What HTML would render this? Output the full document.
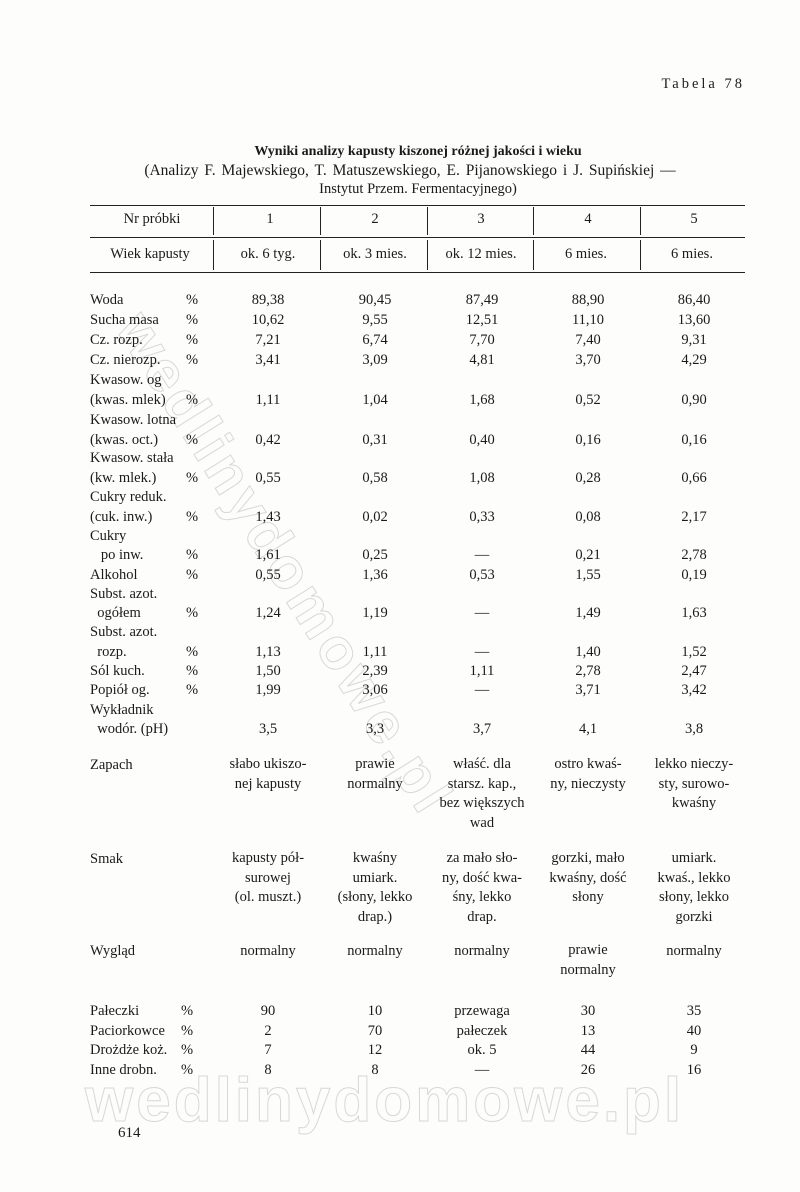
<!DOCTYPE html>
<html><head><meta charset="utf-8">
<style>
body{margin:0;background:#fff;}
#p{position:relative;width:800px;height:1192px;background:#fdfdfb;font-family:"Liberation Serif",serif;font-size:14.5px;color:#1a1a1a;overflow:hidden}
.t{position:absolute;white-space:nowrap;line-height:16px}
.c{position:absolute;white-space:nowrap;line-height:16px;transform:translateX(-50%);text-align:center}
.m{line-height:19.5px}
.h{position:absolute;background:#222;height:1px}
.v{position:absolute;background:#222;width:1px}
.wm{position:absolute;font-family:"Liberation Sans",sans-serif;font-weight:bold;color:transparent;-webkit-text-stroke:1px #d8d8d8;white-space:nowrap}
</style></head><body><div id="p">
<div class="wm" style="left:85px;top:1065px;font-size:62px;letter-spacing:3px">wedlinydomowe.pl</div>
<div class="wm" style="left:160px;top:300px;font-size:58px;transform-origin:0 0;transform:rotate(58deg);letter-spacing:4px">wedlinydomowe.pl</div>

<div class="t" style="right:55px;top:76px;letter-spacing:3px">Tabela 78</div>
<div class="c" style="left:418px;top:144px;font-weight:bold;font-size:14px">Wyniki analizy kapusty kiszonej różnej jakości i wieku</div>
<div class="c" style="left:410px;top:163px;font-size:15.5px;word-spacing:2px">(Analizy F. Majewskiego, T. Matuszewskiego, E. Pijanowskiego i J. Supińskiej —</div>
<div class="c" style="left:418px;top:181px">Instytut Przem. Fermentacyjnego)</div>

<div class="h" style="left:90px;top:205px;width:655px"></div>
<div class="h" style="left:90px;top:237px;width:655px"></div>
<div class="h" style="left:90px;top:272px;width:655px"></div>
<div class="v" style="left:213px;top:207px;height:28px"></div><div class="v" style="left:213px;top:240px;height:30px"></div>
<div class="v" style="left:320px;top:207px;height:28px"></div><div class="v" style="left:320px;top:240px;height:30px"></div>
<div class="v" style="left:427px;top:207px;height:28px"></div><div class="v" style="left:427px;top:240px;height:30px"></div>
<div class="v" style="left:533px;top:207px;height:28px"></div><div class="v" style="left:533px;top:240px;height:30px"></div>
<div class="v" style="left:640px;top:207px;height:28px"></div><div class="v" style="left:640px;top:240px;height:30px"></div>

<div class="c" style="left:152px;top:211px">Nr próbki</div>
<div class="c" style="left:270px;top:211px">1</div><div class="c" style="left:375px;top:211px">2</div><div class="c" style="left:481px;top:211px">3</div><div class="c" style="left:588px;top:211px">4</div><div class="c" style="left:694px;top:211px">5</div>
<div class="c" style="left:150px;top:246px">Wiek kapusty</div>
<div class="c" style="left:268px;top:246px">ok. 6 tyg.</div><div class="c" style="left:375px;top:246px">ok. 3 mies.</div><div class="c" style="left:481px;top:246px">ok. 12 mies.</div><div class="c" style="left:586px;top:246px">6 mies.</div><div class="c" style="left:692px;top:246px">6 mies.</div>

<div id="rows"></div>

<div class="t" style="left:90px;top:757px">Zapach</div>
<div class="c m" style="left:268px;top:755px">słabo ukiszo-<br>nej kapusty</div>
<div class="c m" style="left:375px;top:755px">prawie<br>normalny</div>
<div class="c m" style="left:482px;top:755px">właść. dla<br>starsz. kap.,<br>bez większych<br>wad</div>
<div class="c m" style="left:588px;top:755px">ostro kwaś-<br>ny, nieczysty</div>
<div class="c m" style="left:694px;top:755px">lekko nieczy-<br>sty, surowo-<br>kwaśny</div>

<div class="t" style="left:90px;top:851px">Smak</div>
<div class="c m" style="left:268px;top:849px">kapusty pół-<br>surowej<br>(ol. muszt.)</div>
<div class="c m" style="left:375px;top:849px">kwaśny<br>umiark.<br>(słony, lekko<br>drap.)</div>
<div class="c m" style="left:482px;top:849px">za mało sło-<br>ny, dość kwa-<br>śny, lekko<br>drap.</div>
<div class="c m" style="left:588px;top:849px">gorzki, mało<br>kwaśny, dość<br>słony</div>
<div class="c m" style="left:694px;top:849px">umiark.<br>kwaś., lekko<br>słony, lekko<br>gorzki</div>

<div class="t" style="left:90px;top:943px">Wygląd</div>
<div class="c" style="left:268px;top:943px">normalny</div>
<div class="c" style="left:375px;top:943px">normalny</div>
<div class="c" style="left:482px;top:943px">normalny</div>
<div class="c m" style="left:588px;top:941px">prawie<br>normalny</div>
<div class="c" style="left:694px;top:943px">normalny</div>

<div class="t" style="left:118px;top:1125px;font-size:15px">614</div>
</div>
<script>
var R=[
["Woda","%","89,38","90,45","87,49","88,90","86,40",300],
["Sucha masa","%","10,62","9,55","12,51","11,10","13,60",320],
["Cz. rozp.","%","7,21","6,74","7,70","7,40","9,31",340],
["Cz. nierozp.","%","3,41","3,09","4,81","3,70","4,29",360],
["Kwasow. og","","","","","","",380],
["(kwas. mlek)","%","1,11","1,04","1,68","0,52","0,90",400],
["Kwasow. lotna","","","","","","",420],
["(kwas. oct.)","%","0,42","0,31","0,40","0,16","0,16",440],
["Kwasow. stała","","","","","","",458],
["(kw. mlek.)","%","0,55","0,58","1,08","0,28","0,66",478],
["Cukry reduk.","","","","","","",497],
["(cuk. inw.)","%","1,43","0,02","0,33","0,08","2,17",517],
["Cukry","","","","","","",536],
["&nbsp;&nbsp;&nbsp;po inw.","%","1,61","0,25","—","0,21","2,78",555],
["Alkohol","%","0,55","1,36","0,53","1,55","0,19",575],
["Subst. azot.","","","","","","",594],
["&nbsp;&nbsp;ogółem","%","1,24","1,19","—","1,49","1,63",613],
["Subst. azot.","","","","","","",632],
["&nbsp;&nbsp;rozp.","%","1,13","1,11","—","1,40","1,52",652],
["Sól kuch.","%","1,50","2,39","1,11","2,78","2,47",671],
["Popiół og.","%","1,99","3,06","—","3,71","3,42",690],
["Wykładnik","","","","","","",710],
["&nbsp;&nbsp;wodór. (pH)","","3,5","3,3","3,7","4,1","3,8",729],
["Pałeczki","%","90","10","przewaga","30","35",1011],
["Paciorkowce","%","2","70","pałeczek","13","40",1031],
["Drożdże koż.","%","7","12","ok. 5","44","9",1050],
["Inne drobn.","%","8","8","—","26","16",1070]];
var X=[268,375,482,588,694],h="";
R.forEach(function(r){var y=r[7]-8;
h+='<div class="t" style="left:90px;top:'+y+'px">'+r[0]+'</div>';
if(r[1])h+='<div class="t" style="left:'+(r[7]>1000?181:186)+'px;top:'+y+'px">%</div>';
for(var i=0;i<5;i++)if(r[2+i])h+='<div class="c" style="left:'+X[i]+'px;top:'+y+'px">'+r[2+i]+'</div>';});
document.getElementById("rows").outerHTML=h;
</script>
</body></html>
